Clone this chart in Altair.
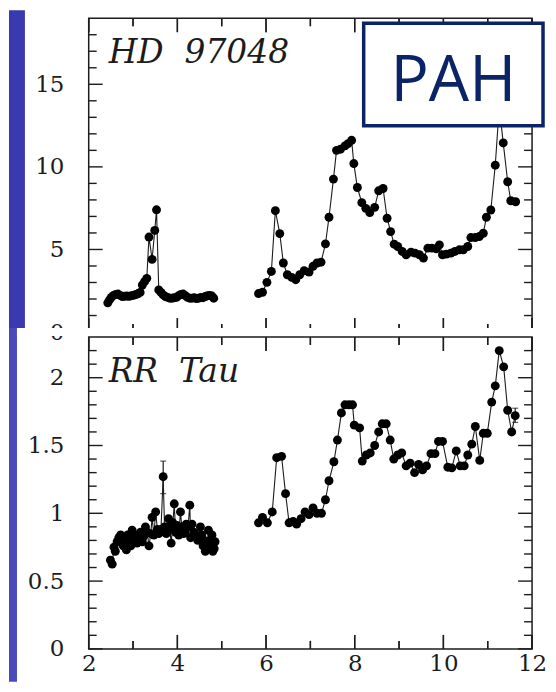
import altair as alt
import pandas as pd

# ---------------- data ----------------
hd_name = "HD 97048"
rr_name = "RR Tau"
box_text = "PAH"

hd_lam_1 = [2.43, 2.47, 2.51, 2.56, 2.61, 2.66, 2.71, 2.76, 2.81, 2.86,
            2.91, 2.96, 3.01, 3.06, 3.11, 3.16, 3.21, 3.26, 3.31, 3.36,
            3.43, 3.49, 3.53, 3.58, 3.63, 3.68, 3.73, 3.78, 3.83, 3.88,
            3.93, 3.98, 4.03, 4.08, 4.13, 4.18, 4.23, 4.28, 4.33, 4.38,
            4.43, 4.48, 4.53, 4.58, 4.63, 4.68, 4.73, 4.78, 4.82]
hd_val_1 = [1.77, 1.95, 2.10, 2.22, 2.28, 2.30, 2.22, 2.15, 2.17, 2.18,
            2.16, 2.20, 2.22, 2.27, 2.32, 2.40, 2.85, 3.05, 3.25, 5.75,
            4.40, 6.15, 7.40, 2.55, 2.40, 2.25, 2.15, 2.10, 2.05, 2.05,
            2.08, 2.10, 2.20, 2.28, 2.30, 2.20, 2.10, 2.05, 2.05, 2.08,
            2.03, 2.05, 2.10, 2.08, 2.15, 2.20, 2.22, 2.18, 2.05]

hd_lam_2 = [5.83, 5.92, 6.02, 6.12, 6.21, 6.31, 6.39, 6.48, 6.58, 6.67,
            6.76, 6.86, 6.97, 7.06, 7.15, 7.24, 7.34, 7.42, 7.52, 7.59,
            7.68, 7.78, 7.85, 7.93, 7.98, 8.06, 8.16, 8.25, 8.34, 8.45,
            8.54, 8.64, 8.73, 8.81, 8.89, 8.97, 9.07, 9.16, 9.27, 9.36,
            9.46, 9.55, 9.65, 9.74, 9.84, 9.91, 9.98, 10.07, 10.17, 10.26,
            10.36, 10.45, 10.55, 10.62, 10.72, 10.81, 10.90, 10.97, 11.07, 11.17,
            11.26, 11.35, 11.45, 11.52, 11.63]
hd_val_2 = [2.33, 2.41, 3.01, 3.67, 7.35, 5.96, 4.18, 3.47, 3.31, 3.17,
            3.47, 3.71, 3.63, 3.98, 4.18, 4.23, 5.34, 6.95, 9.26, 11.0,
            11.07, 11.27, 11.41, 11.61, 10.2, 8.75, 7.83, 7.49, 7.23, 7.55,
            8.55, 8.69, 6.89, 6.08, 5.32, 5.18, 4.88, 4.68, 4.84, 4.78,
            4.68, 4.48, 5.08, 5.08, 5.04, 5.28, 4.68, 4.72, 4.78, 4.88,
            4.98, 4.98, 5.18, 5.72, 5.72, 5.78, 5.98, 6.95, 7.39, 10.1,
            13.6, 11.45, 9.1, 7.95, 7.89]

rr_lam_1 = [2.49, 2.53, 2.57, 2.60, 2.64, 2.68, 2.72, 2.75, 2.78, 2.82,
            2.85, 2.88, 2.91, 2.95, 2.98, 3.02, 3.06, 3.09, 3.13, 3.17,
            3.21, 3.24, 3.28, 3.32, 3.36, 3.40, 3.43, 3.47, 3.51, 3.55,
            3.58, 3.63, 3.68, 3.71, 3.75, 3.77, 3.80, 3.83, 3.86, 3.90,
            3.93, 3.96, 3.99, 4.03, 4.07, 4.10, 4.14, 4.17, 4.20, 4.24,
            4.28, 4.30, 4.33, 4.37, 4.40, 4.43, 4.46, 4.49, 4.52, 4.55,
            4.58, 4.61, 4.63, 4.67, 4.70, 4.73, 4.76, 4.78, 4.80, 4.83,
            4.85]
rr_val_1 = [0.654, 0.625, 0.75, 0.72, 0.79, 0.82, 0.84, 0.80, 0.76, 0.78,
            0.73, 0.84, 0.81, 0.76, 0.875, 0.83, 0.80, 0.78, 0.84, 0.86,
            0.79, 0.83, 0.90, 0.86, 0.76, 0.85, 0.97, 0.84, 1.01, 0.88,
            0.85, 0.88, 1.27, 0.90, 0.85, 0.90, 0.96, 0.88, 0.78, 0.93,
            1.07, 0.86, 0.91, 0.84, 1.01, 0.90, 0.85, 0.86, 0.92, 0.90,
            1.06, 0.82, 0.92, 0.86, 0.85, 0.83, 0.80, 0.82, 0.90, 0.84,
            0.76, 0.80, 0.72, 0.76, 0.875, 0.78, 0.80, 0.84, 0.72, 0.74,
            0.79]

rr_lam_2 = [5.83, 5.92, 6.03, 6.14, 6.24, 6.35, 6.44, 6.52, 6.61, 6.69,
            6.79, 6.88, 6.97, 7.06, 7.15, 7.25, 7.34, 7.42, 7.53, 7.61,
            7.70, 7.78, 7.87, 7.95, 7.99, 8.11, 8.17, 8.26, 8.35, 8.45,
            8.54, 8.62, 8.71, 8.80, 8.88, 8.97, 9.06, 9.16, 9.25, 9.35,
            9.44, 9.53, 9.62, 9.72, 9.81, 9.89, 9.98, 10.10, 10.19, 10.29,
            10.38, 10.47, 10.55, 10.64, 10.72, 10.82, 10.90, 10.99, 11.09, 11.17,
            11.26, 11.36, 11.45, 11.54, 11.62]
rr_val_2 = [0.93, 0.97, 0.93, 1.01, 1.41, 1.42, 1.145, 0.93, 0.94, 0.92,
            0.96, 1.01, 0.99, 1.04, 1.00, 1.00, 1.10, 1.24, 1.38, 1.54,
            1.74, 1.80, 1.80, 1.80, 1.65, 1.63, 1.385, 1.43, 1.445, 1.50,
            1.60, 1.66, 1.66, 1.54, 1.40, 1.43, 1.445, 1.35, 1.37, 1.30,
            1.36, 1.32, 1.35, 1.44, 1.44, 1.53, 1.53, 1.34, 1.335, 1.46,
            1.35, 1.35, 1.43, 1.51, 1.64, 1.39, 1.59, 1.59, 1.82, 1.94,
            2.20, 2.08, 1.76, 1.60, 1.72]

rr_err_lam = [3.68, 11.62]
rr_err_lo = [1.145, 1.67]
rr_err_hi = [1.385, 1.775]

x_major = [2, 4, 6, 8, 10, 12]
x_minor = [3, 5, 7, 9, 11]
hd_y_major = [0, 5, 10, 15]
hd_y_minor = [1, 2, 3, 4, 6, 7, 8, 9, 11, 12, 13, 14, 16, 17, 18]
rr_y_major = [0, 0.5, 1, 1.5, 2]
rr_y_minor = [0.1, 0.2, 0.3, 0.4, 0.6, 0.7, 0.8, 0.9, 1.1, 1.2, 1.3, 1.4,
              1.6, 1.7, 1.8, 1.9, 2.1, 2.2]

# ---------------- styling / layout ----------------
INK = "#1c1c1c"
NAVY = "#0b2466"
STRIP_TOP = "#3a3ab0"
STRIP_BOT = "#4a4abb"
W = 445
H_TOP = 315
H_BOT = 313
MAJ = 14
MIN = 8
HALF = 0.7          # half tick thickness, px
TICK_FONT = "DejaVu Serif"
NBSP = "\u00a0"
X_DOM = [2.0, 12.0]

xs = alt.Scale(domain=X_DOM, nice=False, zero=False)


def series(lams, vals, seg):
    return pd.DataFrame({"lam": [float(v) for v in lams],
                         "val": [float(v) for v in vals], "seg": seg})


def box_layer(tag, fill, x, x2, y, y2, **kw):
    return alt.Chart(pd.DataFrame({"part": [tag]})).mark_rect(fill=fill, **kw).encode(
        x=alt.value(x), x2=alt.value(x2), y=alt.value(y), y2=alt.value(y2))


def tick_layers(X, Y, ydomain, H, y_major, y_minor):
    ypp = (ydomain[1] - ydomain[0]) / H
    xpp = (X_DOM[1] - X_DOM[0]) / W
    out = []
    # ticks along the top and bottom edges (vertical segments)
    for vals, L in ((x_major, MAJ), (x_minor, MIN)):
        fv = [float(v) for v in vals]
        n = len(fv)
        d_top = pd.DataFrame({"lam": fv, "ya": [float(ydomain[1])] * n,
                              "yb": [float(ydomain[1] - L * ypp)] * n})
        d_bot = pd.DataFrame({"lam": fv, "ya": [float(ydomain[0])] * n,
                              "yb": [float(ydomain[0] + L * ypp)] * n})
        out.append(alt.Chart(d_top).mark_rule(color=INK, strokeWidth=1.4).encode(
            x=X(), y=Y("ya"), y2="yb:Q"))
        out.append(alt.Chart(d_bot).mark_rule(color=INK, strokeWidth=1.4).encode(
            x=X(), y=Y("ya"), y2="yb:Q"))
        d_band = pd.DataFrame({"xlo": [v - HALF * xpp for v in fv],
                               "xhi": [v + HALF * xpp for v in fv]})
        out.append(alt.Chart(d_band).mark_rect(color=INK, strokeWidth=0).encode(
            x=X("xlo"), x2="xhi:Q", y=alt.value(0), y2=alt.value(L)))
        out.append(alt.Chart(d_band).mark_rect(color=INK, strokeWidth=0).encode(
            x=X("xlo"), x2="xhi:Q", y=alt.value(H - L), y2=alt.value(H)))
    # ticks along the left and right edges (thin rectangles)
    for vals, L in ((y_major, MAJ), (y_minor, MIN)):
        fv = [float(v) for v in vals]
        d_band = pd.DataFrame({"ylo": [v - HALF * ypp for v in fv],
                               "yhi": [v + HALF * ypp for v in fv]})
        out.append(alt.Chart(d_band).mark_rect(color=INK, strokeWidth=0).encode(
            y=Y("ylo"), y2="yhi:Q", x=alt.value(0), x2=alt.value(L)))
        out.append(alt.Chart(d_band).mark_rect(color=INK, strokeWidth=0).encode(
            y=Y("ylo"), y2="yhi:Q", x=alt.value(W - L), x2=alt.value(W)))
    return out


def make_panel(df, ydomain, H, y_major, y_minor, y_fmt, x_axis, name, backdrop, extra):
    ys = alt.Scale(domain=ydomain, nice=False, zero=False)
    y_axis = alt.Axis(values=y_major, format=y_fmt, ticks=False, domain=False,
                      grid=False, labelFont=TICK_FONT, labelFontSize=23,
                      labelColor=INK, labelPadding=25, title=None, zindex=1)

    def X(field="lam"):
        return alt.X(f"{field}:Q", scale=xs, axis=x_axis, title=None)

    def Y(field="val"):
        return alt.Y(f"{field}:Q", scale=ys, axis=y_axis, title=None)

    layers = list(backdrop)
    layers.extend(extra(X, Y))
    layers.append(alt.Chart(df).mark_line(color=INK, strokeWidth=1.1).encode(
        x=X(), y=Y(), detail="seg:N", order="lam:Q"))
    layers.append(alt.Chart(df).mark_circle(color="black", size=80, opacity=1).encode(
        x=X(), y=Y()))
    layers.extend(tick_layers(X, Y, ydomain, H, y_major, y_minor))
    layers.append(alt.Chart(pd.DataFrame({"part": ["frame"]})).mark_rect(
        filled=False, stroke=INK, strokeWidth=1.5).encode(
        x=alt.value(0), x2=alt.value(W), y=alt.value(0), y2=alt.value(H)))
    layers.append(alt.Chart(pd.DataFrame({"label": [name.replace(" ", NBSP * 2)]})).mark_text(
        align="left", baseline="alphabetic", font="DejaVu Serif", fontStyle="italic",
        fontSize=33, color=INK).encode(
        x=alt.value(20), y=alt.value(45), text="label:N"))
    return layers


hd_df = pd.concat([series(hd_lam_1, hd_val_1, "a"), series(hd_lam_2, hd_val_2, "b")],
                  ignore_index=True)
rr_df = pd.concat([series(rr_lam_1, rr_val_1, "a"), series(rr_lam_2, rr_val_2, "b")],
                  ignore_index=True)


def hd_extra(X, Y):
    return []


def rr_extra(X, Y):
    err = pd.DataFrame({"lam": rr_err_lam, "lo": rr_err_lo, "hi": rr_err_hi})
    return [
        alt.Chart(err).mark_rule(color=INK, strokeWidth=1.2).encode(
            x=X(), y=Y("lo"), y2="hi:Q"),
        alt.Chart(err).mark_tick(color=INK, orient="horizontal", size=6, thickness=1.2).encode(
            x=X(), y=Y("hi")),
        alt.Chart(err).mark_tick(color=INK, orient="horizontal", size=6, thickness=1.2).encode(
            x=X(), y=Y("lo")),
    ]


top_backdrop = [box_layer("strip_top", STRIP_TOP, -80, -64, -8, 311)]
bot_backdrop = [box_layer("strip_bot", STRIP_BOT, -80, -72, -9, 346),
                box_layer("cover", "white", -72, 460, -9, -1)]

top_layers = make_panel(hd_df, [0.0, 19.0], H_TOP, hd_y_major, hd_y_minor, "d", None,
                        hd_name, top_backdrop, hd_extra)
# PAH box
top_layers.append(box_layer("pah", "white", 276, 456, 5, 108, stroke=NAVY, strokeWidth=3.5))
top_layers.append(alt.Chart(pd.DataFrame({"label": [box_text]})).mark_text(
    align="center", baseline="alphabetic", font="Liberation Sans Narrow, Open Sans",
    fontSize=64, color=NAVY).encode(x=alt.value(366), y=alt.value(83), text="label:N"))

x_axis_bot = alt.Axis(values=x_major, ticks=False, domain=False, grid=False,
                      labelFont=TICK_FONT, labelFontSize=23, labelColor=INK,
                      labelPadding=4, labelFlush=False, title=None, zindex=1)
bot_layers = make_panel(rr_df, [0.0, 2.3], H_BOT, rr_y_major, rr_y_minor, "~g", x_axis_bot,
                        rr_name, bot_backdrop, rr_extra)

top = alt.layer(*top_layers).properties(width=W, height=H_TOP)
bot = alt.layer(*bot_layers).properties(width=W, height=H_BOT)

chart = alt.vconcat(top, bot, spacing=5, bounds="flush").properties(
    padding=0
).configure(background="white").configure_view(stroke="transparent")

chart.save("out.html", embed_options={"renderer": "svg", "actions": False})
